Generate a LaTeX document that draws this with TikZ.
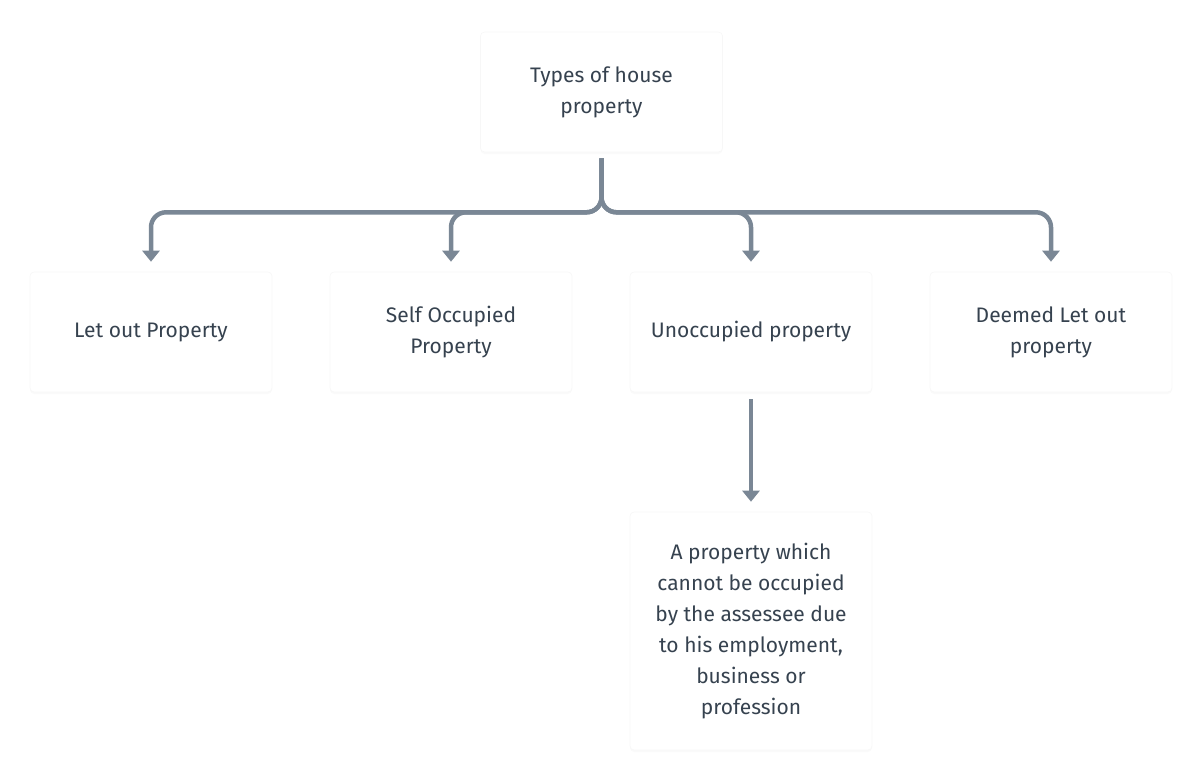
\documentclass[tikz,border=0pt]{standalone}
\usepackage{fontspec}
\setmainfont{Fira Sans}
\usetikzlibrary{arrows.meta,shadows}
\definecolor{txt}{HTML}{36424F}
\definecolor{conncol}{HTML}{7A8795}
\tikzset{
  card/.style={draw=black!3, line width=0.6pt, fill=white, rounded corners=4pt,
    minimum width=242pt, minimum height=120pt, align=center, text=txt,
    font=\fontsize{21pt}{31pt}\selectfont,
    drop shadow={opacity=0.04, shadow xshift=0pt, shadow yshift=-2pt}},
  conn/.style={draw=conncol, line width=4.5pt, rounded corners=15pt,
    -{Triangle[width=17pt,length=11pt]}, shorten <=6pt, shorten >=10pt}
}
\begin{document}
\begin{tikzpicture}[x=1pt,y=-1pt]
\useasboundingbox (0,0) rectangle (1202,782);
\node[card] (top) at (601.5,92) {Types of house\\property};
\node[card] (b1) at (151,332) {Let out Property};
\node[card] (b2) at (451,332) {Self Occupied\\Property};
\node[card] (b3) at (751,332) {Unoccupied property};
\node[card] (b4) at (1051,332) {Deemed Let out\\property};
\node[card, minimum height=238pt] (bot) at (751,631) {A property which\\cannot be occupied\\by the assessee due\\to his employment,\\business or\\profession};
\foreach \b in {b1,b2,b3,b4}{
  \draw[conn] (top.south) -- ++(0,60) -| (\b.north);
}
\draw[conn, shorten <=7pt] (b3.south) -- (bot.north);
\end{tikzpicture}
\end{document}
